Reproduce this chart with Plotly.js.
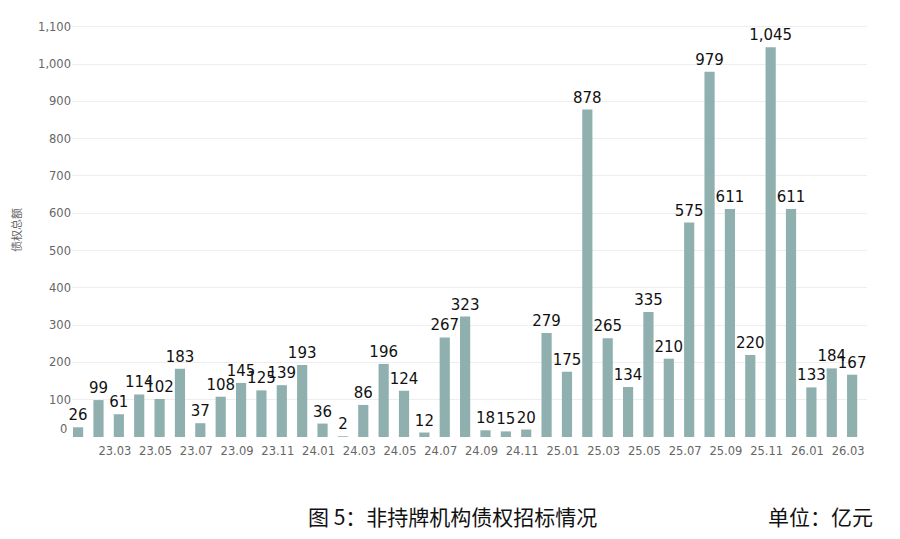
<!DOCTYPE html>
<html>
<head>
<meta charset="utf-8">
<script src="https://cdn.plot.ly/plotly-3.0.1.min.js"></script>
<style>
html,body{margin:0;padding:0;background:#fff;}
#chart{width:900px;height:539px;}
</style>
</head>
<body>
<div id="chart"></div>
<script>
const months = [
  "23.01","23.02","23.03","23.04","23.05","23.06","23.07","23.08","23.09","23.10","23.11","23.12",
  "24.01","24.02","24.03","24.04","24.05","24.06","24.07","24.08","24.09","24.10","24.11","24.12",
  "25.01","25.02","25.03","25.04","25.05","25.06","25.07","25.08","25.09","25.10","25.11","25.12",
  "26.01","26.02","26.03"
];
const amounts = [
  26, 99, 61, 114, 102, 183, 37, 108, 145, 125, 139, 193,
  36, 2, 86, 196, 124, 12, 267, 323, 18, 15, 20, 279,
  175, 878, 265, 134, 335, 210, 575, 979, 611, 220, 1045, 611,
  133, 184, 167
];
const xTickLabels = [
  "23.03","23.05","23.07","23.09","23.11","24.01","24.03","24.05","24.07","24.09","24.11",
  "25.01","25.03","25.05","25.07","25.09","25.11","26.01","26.03"
];
const yTicks = [0,100,200,300,400,500,600,700,800,900,1000,1100];
const yTickText = ["","100","200","300","400","500","600","700","800","900","1,000","1,100"];
const yAxisTitle = "债权总额";
const captionText = "图 5：非持牌机构债权招标情况";
const unitText = "单位：亿元";

const trace = {
  type: "bar",
  x: months,
  y: amounts,
  marker: {color: "#8fb0ae"},
  text: amounts,
  texttemplate: "%{y:,}",
  textposition: "outside",
  constraintext: "none",
  cliponaxis: false,
  textfont: {family: "DejaVu Sans, Verdana, sans-serif", size: 15, color: "#111"},
  hoverinfo: "x+y"
};

const layout = {
  width: 900,
  height: 539,
  margin: {l: 72, r: 33, t: 23, b: 102},
  paper_bgcolor: "#fff",
  plot_bgcolor: "#fff",
  bargap: 0.5,
  showlegend: false,
  font: {family: "DejaVu Sans, Verdana, sans-serif", color: "#666"},
  xaxis: {
    type: "category",
    range: [-0.3, 38.73],
    tickmode: "array",
    tickvals: xTickLabels,
    ticktext: xTickLabels,
    tickfont: {size: 11.5, color: "#666"},
    ticklabelshift: -4,
    ticklabelstandoff: 5,
    showgrid: false,
    showline: false,
    zeroline: false,
    ticks: ""
  },
  yaxis: {
    range: [0, 1110],
    tickmode: "array",
    tickvals: yTicks,
    ticktext: yTickText,
    tickfont: {size: 11.5, color: "#666"},
    gridcolor: "#eeeeee",
    gridwidth: 1,
    zeroline: false,
    showline: false,
    ticks: "",
    title: {text: yAxisTitle, font: {family: "Noto Sans CJK SC", size: 11, color: "#666"}, standoff: 14}
  },
  annotations: [
    {text: "0", xref: "paper", yref: "y", x: 0, y: 0, xanchor: "right", yanchor: "middle", xshift: -3, yshift: 8,
     showarrow: false, font: {family: "DejaVu Sans, Verdana, sans-serif", size: 11.5, color: "#666"}},
    {text: captionText, xref: "paper", yref: "paper", x: (306-72)/795, y: -0.19, xanchor: "left", yanchor: "middle",
     showarrow: false, font: {family: "Noto Sans CJK SC", size: 21, color: "#111"}},
    {text: unitText, xref: "paper", yref: "paper", x: (875-72)/795, y: -0.19, xanchor: "right", yanchor: "middle",
     showarrow: false, font: {family: "Noto Sans CJK SC", size: 21, color: "#111"}}
  ]
};

Plotly.newPlot("chart", [trace], layout, {displayModeBar: false, staticPlot: true});
</script>
</body>
</html>
